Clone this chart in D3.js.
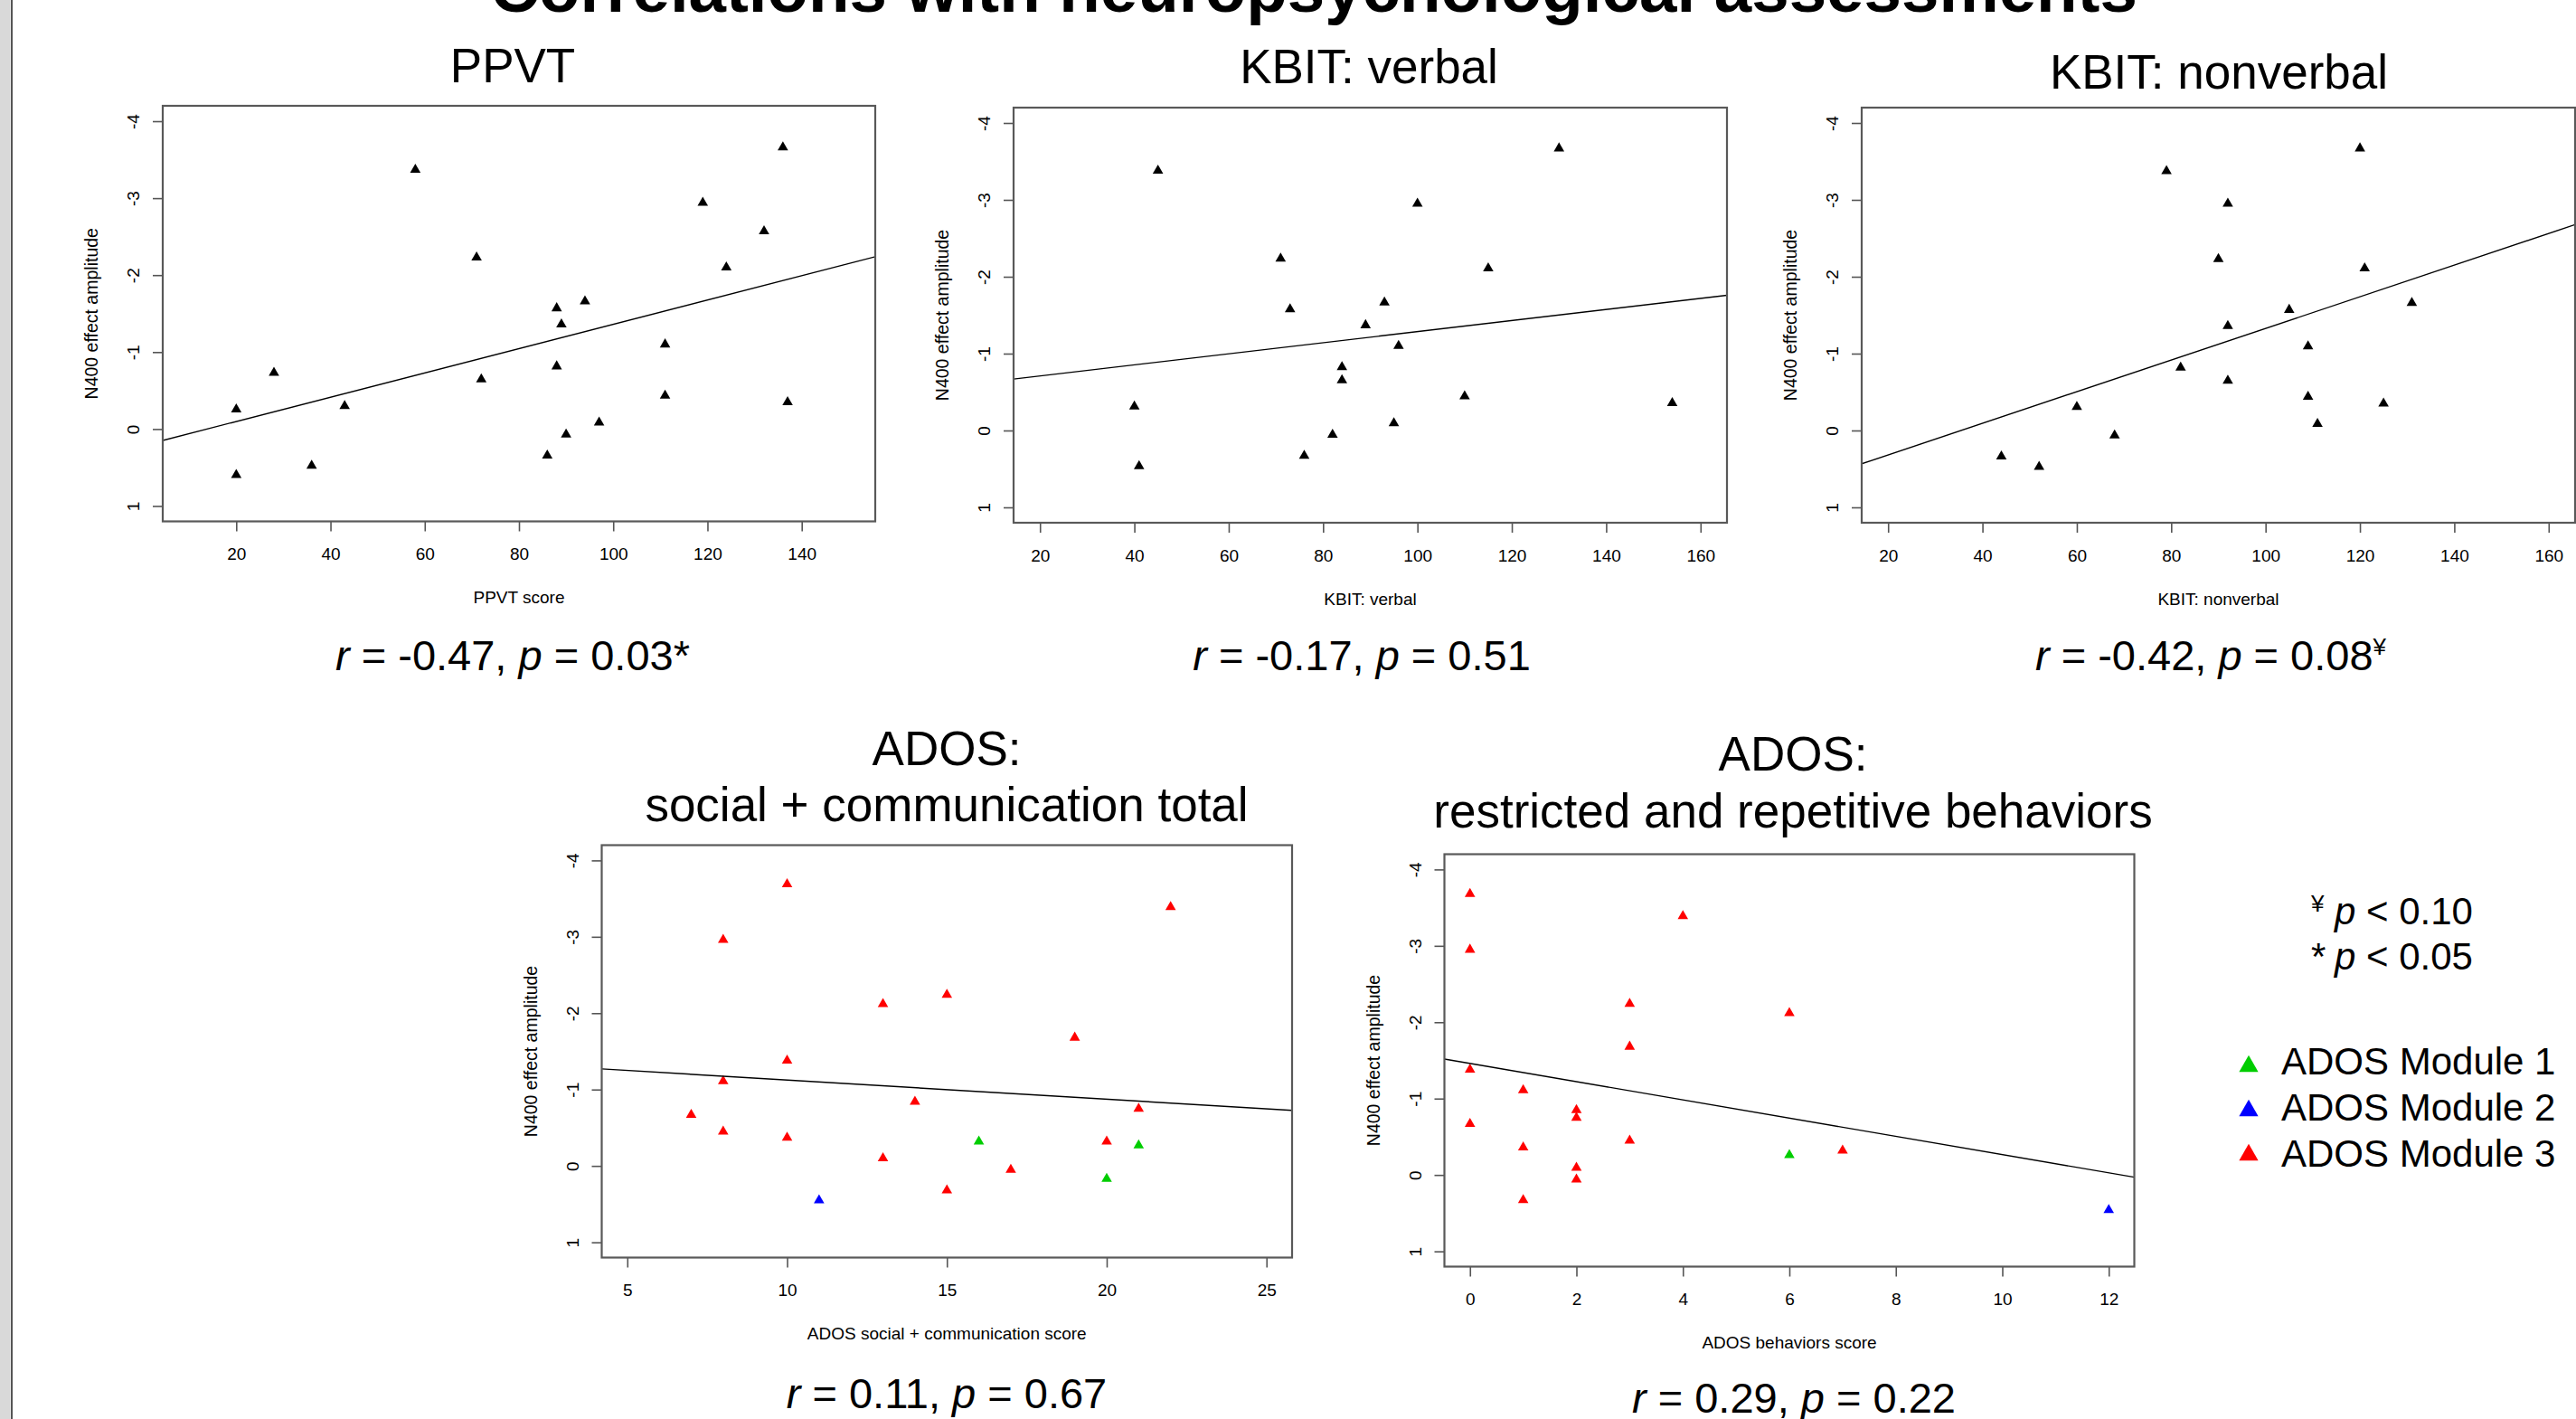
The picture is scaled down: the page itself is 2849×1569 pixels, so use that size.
<!DOCTYPE html>
<html><head><meta charset="utf-8">
<script src="https://cdn.jsdelivr.net/npm/d3@7"></script>
<style>
html,body{margin:0;padding:0;background:#fff;}
svg{display:block;}
text{font-family:"Liberation Sans",Arial,sans-serif;fill:#000;}
</style></head><body>
<svg id="chart" width="2849" height="1569"></svg>
<script>
// ---------------- DATA ----------------
const mainTitle = "Correlations with neuropsychological assessments";
const amplitudeLabel = "N400 effect amplitude";
const amplitudeLim = [-4, 1];
const amplitudeTicks = [-4, -3, -2, -1, 0, 1];

const ppvtScore = [20,20,28,36,43,58,71,72,86,88,88,89,90,94,97,111,111,119,124,132,136,137];
const ppvtN400  = [-0.255,0.597,-0.73,0.476,-0.30,-3.37,-2.23,-0.645,0.344,-1.57,-0.815,-1.36,0.07,-1.66,-0.085,-1.10,-0.435,-2.94,-2.10,-2.57,-3.66,-0.35];
const ppvtXlim  = [10, 150];
const ppvtTicks = [20,40,60,80,100,120,140];

const kbitVerbalScore = [45,130,100,71,115,93,73,89,96,84,84,110,154,40,95,82,76,41];
const kbitVerbalN400  = [-3.38,-3.67,-2.95,-2.235,-2.11,-1.666,-1.578,-1.37,-1.10,-0.825,-0.655,-0.446,-0.358,-0.314,-0.095,0.055,0.328,0.464];
const kbitVerbalXlim  = [20, 160];
const kbitTicks = [20,40,60,80,100,120,140,160];

const kbitNonverbalScore = [120,79,92,90,121,131,105,92,109,82,92,109,125,60,111,68,44,52];
const kbitNonverbalN400  = [-3.67,-3.375,-2.95,-2.23,-2.11,-1.66,-1.57,-1.36,-1.095,-0.818,-0.647,-0.438,-0.35,-0.307,-0.087,0.063,0.337,0.472];
const kbitNonverbalXlim  = [20, 160];

const adosSocialScore  = [10,22,8,15,13,19,10,8,14,21,7,8,10,16,20,21,13,17,20,15,11];
const adosSocialN400   = [-3.69,-3.39,-2.96,-2.24,-2.12,-1.68,-1.38,-1.11,-0.84,-0.75,-0.67,-0.45,-0.37,-0.32,-0.32,-0.27,-0.10,0.05,0.17,0.32,0.45];
const adosSocialModule = [3,3,3,3,3,3,3,3,3,3,3,3,3,1,3,1,3,3,1,3,2];
const adosSocialXlim   = [5, 25];
const adosSocialTicks  = [5,10,15,20,25];

const adosBehavScore  = [0,4,0,3,6,3,0,1,2,2,0,3,1,7,6,2,2,1,12];
const adosBehavN400   = [-3.68,-3.39,-2.95,-2.24,-2.12,-1.68,-1.38,-1.11,-0.85,-0.75,-0.67,-0.45,-0.36,-0.32,-0.26,-0.095,0.06,0.33,0.46];
const adosBehavModule = [3,3,3,3,3,3,3,3,3,3,3,3,3,3,1,3,3,3,2];
const adosBehavXlim   = [0, 12];
const adosBehavTicks  = [0,2,4,6,8,10,12];

// regression lines: N400 = intercept + slope * score
const fitIntercept = [0.2176, -0.565, 0.730, -1.376, -1.461];
const fitSlope     = [-0.01579, -0.00721, -0.02058, 0.02514, 0.1194];

const panelTitles = [["PPVT"], ["KBIT: verbal"], ["KBIT: nonverbal"],
  ["ADOS:", "social + communication total"], ["ADOS:", "restricted and repetitive behaviors"]];
const xLabels = ["PPVT score", "KBIT: verbal", "KBIT: nonverbal", "ADOS social + communication score", "ADOS behaviors score"];
const statR = ["-0.47", "-0.17", "-0.42", "0.11", "0.29"];
const statP = ["0.03", "0.51", "0.08", "0.67", "0.22"];
const statMark = ["*", "", "¥", "", ""];

const moduleLabels = ["ADOS Module 1", "ADOS Module 2", "ADOS Module 3"];
const moduleIds = [1, 2, 3];
const sigNotes = [{mark:"¥", p:"0.10"}, {mark:"*", p:"0.05"}];

// ---------------- LAYOUT / STYLE ----------------
const FONT = '"Liberation Sans",Arial,sans-serif';
const moduleColor = {1: "#00CD00", 2: "#0000FF", 3: "#FF0000"};

const panels = [
  {xs: ppvtScore, ys: ppvtN400, mods: null, xlim: ppvtXlim, ticks: ppvtTicks,
   left: 180, top: 117, w: 788, h: 459.5, titleX: 567, titleY: [91], statX: 567, statY: 741},
  {xs: kbitVerbalScore, ys: kbitVerbalN400, mods: null, xlim: kbitVerbalXlim, ticks: kbitTicks,
   left: 1121, top: 119, w: 789, h: 459, titleX: 1514, titleY: [92], statX: 1506, statY: 741},
  {xs: kbitNonverbalScore, ys: kbitNonverbalN400, mods: null, xlim: kbitNonverbalXlim, ticks: kbitTicks,
   left: 2059, top: 119, w: 789, h: 459, titleX: 2454, titleY: [98], statX: 2445, statY: 741},
  {xs: adosSocialScore, ys: adosSocialN400, mods: adosSocialModule, xlim: adosSocialXlim, ticks: adosSocialTicks,
   left: 665.5, top: 934.5, w: 763.5, h: 456, titleX: 1047, titleY: [846, 908], statX: 1047, statY: 1557},
  {xs: adosBehavScore, ys: adosBehavN400, mods: adosBehavModule, xlim: adosBehavXlim, ticks: adosBehavTicks,
   left: 1597.5, top: 944.5, w: 763, h: 456, titleX: 1983, titleY: [852, 914.5], statX: 1984, statY: 1562}
];

function expand(lim) { const d = (lim[1] - lim[0]) * 0.04; return [lim[0] - d, lim[1] + d]; }

const svg = d3.select("#chart");
svg.append("rect").attr("width", 2849).attr("height", 1569).attr("fill", "#fff");
svg.append("rect").attr("x", 0).attr("y", 0).attr("width", 11.5).attr("height", 1569).attr("fill", "#d9d9d9");
svg.append("line").attr("x1", 13).attr("x2", 13).attr("y1", 0).attr("y2", 1569).attr("stroke", "#555").attr("stroke-width", 2);

svg.append("text").attr("x", 1453).attr("y", 13).attr("text-anchor", "middle")
  .attr("font-size", 74.5).attr("font-weight", "bold").text(mainTitle);

const tri = d3.symbol(d3.symbolTriangle, 58);

panels.forEach((p, i) => {
  const g = svg.append("g").attr("transform", `translate(${p.left},${p.top})`);
  const x = d3.scaleLinear().domain(expand(p.xlim)).range([0, p.w]);
  const y = d3.scaleLinear().domain(expand(amplitudeLim)).range([0, p.h]);

  const clipId = "clip" + i;
  g.append("clipPath").attr("id", clipId).append("rect").attr("width", p.w).attr("height", p.h);

  // x axis
  const xa = g.append("g").attr("transform", `translate(0,${p.h})`)
    .call(d3.axisBottom(x).tickValues(p.ticks).tickSize(11).tickSizeOuter(0).tickFormat(d => String(d)));
  xa.attr("font-size", 19).attr("font-family", FONT);
  xa.select(".domain").remove();
  xa.selectAll(".tick line").attr("stroke", "#555").attr("stroke-width", 1.6);
  xa.selectAll(".tick text").attr("y", 42.5).attr("dy", null).attr("fill", "#111");

  // y axis
  const ya = g.append("g")
    .call(d3.axisLeft(y).tickValues(amplitudeTicks).tickSize(11).tickSizeOuter(0).tickFormat(d => String(d)));
  ya.attr("font-size", 19).attr("font-family", FONT);
  ya.select(".domain").remove();
  ya.selectAll(".tick line").attr("stroke", "#555").attr("stroke-width", 1.6);
  ya.selectAll(".tick text").attr("x", 0).attr("dy", null).attr("fill", "#111")
    .attr("text-anchor", "middle").attr("transform", "translate(-26,0) rotate(-90)");

  // points
  g.append("g").selectAll("path").data(d3.range(p.xs.length)).join("path")
    .attr("transform", k => `translate(${x(p.xs[k])},${y(p.ys[k])})`)
    .attr("d", tri)
    .attr("fill", k => p.mods ? moduleColor[p.mods[k]] : "#000");

  // regression line
  const xd = x.domain();
  g.append("line").attr("clip-path", `url(#${clipId})`)
    .attr("x1", x(xd[0])).attr("y1", y(fitIntercept[i] + fitSlope[i] * xd[0]))
    .attr("x2", x(xd[1])).attr("y2", y(fitIntercept[i] + fitSlope[i] * xd[1]))
    .attr("stroke", "#000").attr("stroke-width", 1.4);

  // box
  g.append("rect").attr("width", p.w).attr("height", p.h).attr("fill", "none")
    .attr("stroke", "#595959").attr("stroke-width", 2.2);

  // axis titles
  g.append("text").attr("x", p.w / 2).attr("y", p.h + 90.5).attr("text-anchor", "middle")
    .attr("font-size", 19).attr("fill", "#111").text(xLabels[i]);
  g.append("text").attr("transform", `translate(-72,${p.h / 2}) rotate(-90)`).attr("text-anchor", "middle")
    .attr("font-size", 19.5).attr("fill", "#111").text(amplitudeLabel);

  // panel title
  panelTitles[i].forEach((line, j) => {
    svg.append("text").attr("x", p.titleX).attr("y", p.titleY[j]).attr("text-anchor", "middle")
      .attr("font-size", 53).text(line);
  });

  // statistic
  const st = svg.append("text").attr("x", p.statX).attr("y", p.statY).attr("text-anchor", "middle").attr("font-size", 47);
  st.append("tspan").attr("font-style", "italic").text("r");
  st.append("tspan").text(" = " + statR[i] + ", ");
  st.append("tspan").attr("font-style", "italic").text("p");
  st.append("tspan").text(" = " + statP[i]);
  if (statMark[i] === "*") st.append("tspan").text("*");
  if (statMark[i] === "¥") st.append("tspan").attr("font-size", 26).attr("dy", -17).text("¥");
});

// significance notes
sigNotes.forEach((n, j) => {
  const yb = 1022 + j * 50;
  if (n.mark === "¥") {
    svg.append("text").attr("x", 2556).attr("y", yb - 14).attr("font-size", 26).text("¥");
  } else {
    svg.append("text").attr("x", 2556).attr("y", yb).attr("font-size", 42).text("*");
  }
  const t = svg.append("text").attr("x", 2582).attr("y", yb).attr("font-size", 42);
  t.append("tspan").attr("font-style", "italic").text("p");
  t.append("tspan").text(" < " + n.p);
});

// module legend
const legTri = d3.symbol(d3.symbolTriangle, 195);
moduleIds.forEach((m, j) => {
  svg.append("path").attr("transform", `translate(2487,${1179 + j * 49})`).attr("d", legTri).attr("fill", moduleColor[m]);
  svg.append("text").attr("x", 2523).attr("y", 1188 + j * 51).attr("font-size", 42).text(moduleLabels[j]);
});
</script></body></html>
